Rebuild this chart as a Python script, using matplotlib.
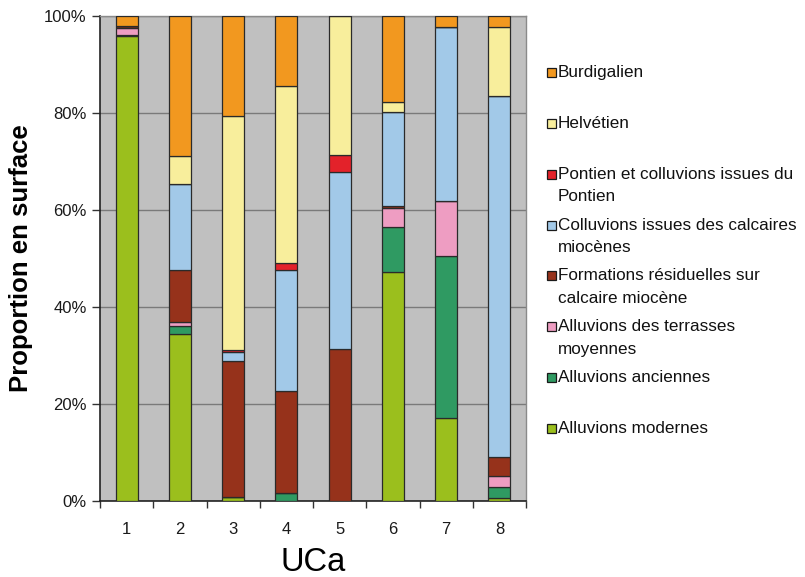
import numpy as np
import matplotlib
matplotlib.use("Agg")
import matplotlib.pyplot as plt
from matplotlib.patches import Rectangle

plt.rcParams["font.family"] = ["Liberation Sans", "DejaVu Sans"]

# UCa categories
categories = ["1", "2", "3", "4", "5", "6", "7", "8"]

# proportions (%) per UCa, stacked bottom -> top
modernes = [95.9, 34.4, 0.9, 0.0, 0.0, 47.2, 17.1, 0.6]
anciennes = [0.1, 1.7, 0.0, 1.7, 0.0, 9.3, 33.4, 2.2]
terrasses = [1.6, 0.9, 0.0, 0.0, 0.0, 3.9, 11.4, 2.4]
formations = [0.3, 10.7, 28.0, 20.9, 31.3, 0.4, 0.0, 3.8]
colluvions = [0.0, 17.6, 1.9, 25.0, 36.5, 19.4, 35.9, 74.5]
pontien = [0.0, 0.0, 0.3, 1.5, 3.5, 0.0, 0.0, 0.0]
helvetien = [0.0, 5.8, 48.2, 36.4, 28.7, 2.1, 0.0, 14.3]
burdigalien = [2.1, 28.9, 20.7, 14.5, 0.0, 17.7, 2.2, 2.2]

series = [modernes, anciennes, terrasses, formations,
          colluvions, pontien, helvetien, burdigalien]
labels = ["Alluvions modernes", "Alluvions anciennes",
          "Alluvions des terrasses\nmoyennes",
          "Formations résiduelles sur\ncalcaire miocène",
          "Colluvions issues des calcaires\nmiocènes",
          "Pontien et colluvions issues du\nPontien",
          "Helvétien", "Burdigalien"]
colors = ["#9BBF1D", "#2F9A62", "#EE9DC2", "#96321B",
          "#A2C9E8", "#E3222A", "#F8EE9C", "#F2981F"]

W, H = 805, 577
fig = plt.figure(figsize=(W / 100, H / 100), dpi=100)
ax = fig.add_axes([100 / W, 1 - 501 / H, 426 / W, 485 / H])
ax.set_facecolor("#C0C0C0")

x = np.arange(len(categories))
bottom = np.zeros(len(categories))
for vals, c in zip(series, colors):
    ax.bar(x, vals, width=0.41, bottom=bottom, color=c,
           edgecolor="#2a2a2a", linewidth=0.9, zorder=3)
    bottom += np.array(vals)

ax.set_xlim(-0.5, len(categories) - 0.5)
ax.set_ylim(0, 100)
ax.set_yticks(np.arange(0, 101, 20))
ax.set_yticklabels([f"{v}%" for v in range(0, 101, 20)])
ax.yaxis.grid(True, color="#7a7a7a", linewidth=1.0, zorder=1)
ax.set_axisbelow(True)

ax.set_xticks(x)
ax.set_xticklabels(categories)
ax.set_xticks(np.arange(-0.5, len(categories)), minor=True)
ax.tick_params(axis="x", which="major", length=0, pad=15, labelsize=12,
               labelcolor="#1a1a1a")
ax.tick_params(axis="x", which="minor", length=5, width=1, color="#333333")
ax.tick_params(axis="y", length=6, width=1, color="#333333",
               labelsize=12, pad=3.5, labelcolor="#1a1a1a")

for s in ["left", "bottom"]:
    ax.spines[s].set_color("#222222")
    ax.spines[s].set_linewidth(1.2)
for s in ["top", "right"]:
    ax.spines[s].set_color("#8a8a8a")
    ax.spines[s].set_linewidth(1.0)

ax.set_ylabel("Proportion en surface", fontsize=18.5, fontweight="bold",
              labelpad=8)
ax.set_xlabel("UCa", fontsize=23.5, labelpad=7)

# legend drawn by hand: first line aligned with the marker
y0, dy, lh = 72.3, 50.9, 22.5
for i, (lab, c) in enumerate(zip(labels[::-1], colors[::-1])):
    yc = y0 + i * dy
    fig.patches.append(Rectangle((546.5 / W, 1 - (yc + 4.5) / H), 9 / W, 9 / H,
                                 transform=fig.transFigure, facecolor=c,
                                 edgecolor="#1a1a1a", linewidth=0.9))
    for j, line in enumerate(lab.split("\n")):
        fig.text(557.5 / W, 1 - (yc + j * lh) / H, line, fontsize=12.3,
                 va="center", ha="left", color="#111111")

fig.savefig("out.png", dpi=100)
